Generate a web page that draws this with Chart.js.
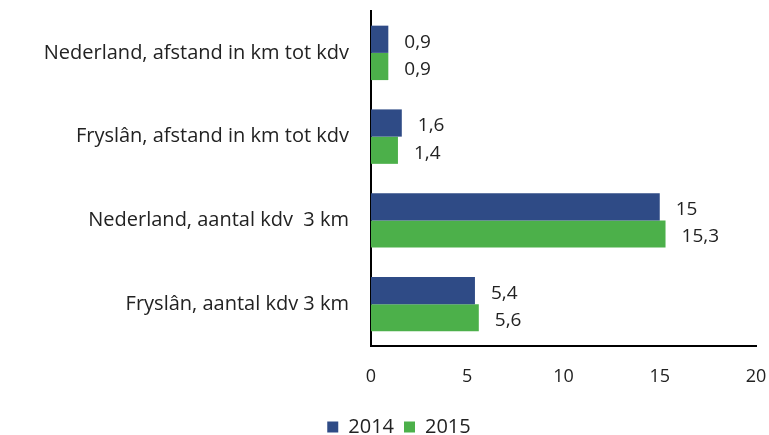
<!DOCTYPE html>
<html lang="nl">
<head>
    <meta charset="UTF-8">
    <title>Kinderdagverblijven 2014-2015</title>
    <style>
        body {
            margin: 0;
            background-color: white;
        }
        .chart-container {
            width: 769px;
            height: 435px;
        }
    </style>
    <script src="https://cdn.jsdelivr.net/npm/chart.js"></script>
</head>
<body>
    <div class="chart-container">
        <canvas id="barChart"></canvas>
    </div>

    <script>
        const categories = [
            'Nederland, afstand in km tot kdv',
            'Fryslân, afstand in km tot kdv',
            'Nederland, aantal kdv  3 km',
            'Fryslân, aantal kdv 3 km'
        ];
        const values2014 = [0.9, 1.6, 15, 5.4];
        const values2015 = [0.9, 1.4, 15.3, 5.6];
        const xTicks = [0, 5, 10, 15, 20];

        const FONT = "'Open Sans', sans-serif";
        const LEFT_PAD = 42; // shifts the legend centre to the right

        // value labels to the right of each bar, with a decimal comma
        const valueLabels = {
            id: 'valueLabels',
            afterDatasetsDraw(chart) {
                const ctx = chart.ctx;
                ctx.save();
                ctx.font = '19px ' + FONT;
                ctx.fillStyle = '#222';
                ctx.textAlign = 'left';
                ctx.textBaseline = 'middle';
                chart.data.datasets.forEach((ds, i) => {
                    chart.getDatasetMeta(i).data.forEach((bar, j) => {
                        const txt = String(ds.data[j]).replace('.', ',');
                        ctx.fillText(txt, bar.x + 16, bar.y + 3);
                    });
                });
                ctx.restore();
            }
        };

        new Chart(document.getElementById('barChart'), {
            type: 'bar',
            data: {
                labels: categories,
                datasets: [{
                    label: '2014',
                    data: values2014,
                    backgroundColor: '#2f4b86'
                }, {
                    label: '2015',
                    data: values2015,
                    backgroundColor: '#4cb04a'
                }]
            },
            options: {
                indexAxis: 'y',
                responsive: true,
                maintainAspectRatio: false,
                animation: false,
                layout: {
                    padding: { left: LEFT_PAD, right: 13, top: 11, bottom: -12 }
                },
                datasets: {
                    bar: { barPercentage: 1, categoryPercentage: 0.65 }
                },
                scales: {
                    x: {
                        min: 0,
                        max: 20,
                        afterBuildTicks: (scale) => {
                            scale.ticks = xTicks.map(v => ({ value: v }));
                        },
                        afterFit: (scale) => {
                            scale.height = 61;
                            scale.paddingLeft = 0;
                            scale.paddingRight = 0;
                        },
                        grid: { display: false, drawTicks: false },
                        border: { color: '#000', width: 2 },
                        ticks: {
                            padding: 20,
                            color: '#222',
                            font: { family: FONT, size: 18 }
                        }
                    },
                    y: {
                        afterFit: (scale) => {
                            scale.width = 371 - LEFT_PAD;
                            scale.paddingTop = 0;
                            scale.paddingBottom = 0;
                        },
                        grid: { display: false, drawTicks: false },
                        border: { color: '#000', width: 2 },
                        ticks: {
                            padding: 22,
                            color: '#222',
                            font: { family: FONT, size: 20 }
                        }
                    }
                },
                plugins: {
                    legend: {
                        display: true,
                        position: 'bottom',
                        labels: {
                            boxWidth: 11,
                            boxHeight: 11,
                            padding: 10,
                            color: '#222',
                            font: { family: FONT, size: 20 }
                        }
                    },
                    tooltip: { enabled: false }
                }
            },
            plugins: [valueLabels]
        });
    </script>
</body>
</html>
